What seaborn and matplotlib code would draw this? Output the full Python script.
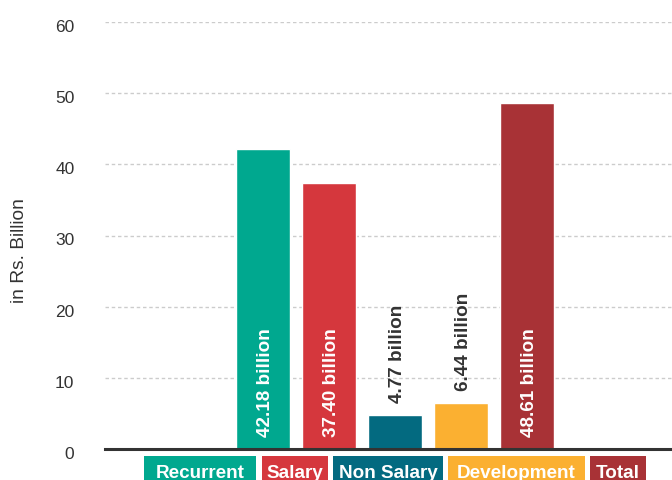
import matplotlib
matplotlib.use("Agg")
import matplotlib.pyplot as plt
from matplotlib.patches import Rectangle
from matplotlib.transforms import ScaledTranslation
import seaborn as sns
import pandas as pd

# Budget components, in Rs. billion
categories = ["Recurrent", "Salary", "Non Salary", "Development", "Total"]
values = [42.18, 37.40, 4.77, 6.44, 48.61]
value_labels = ["42.18 billion", "37.40 billion", "4.77 billion", "6.44 billion", "48.61 billion"]
colors = ["#00A88F", "#D5373D", "#036A80", "#FBB031", "#A83236"]
y_ticks = [0, 10, 20, 30, 40, 50, 60]

sns.set_theme(style="white")
plt.rcParams["font.family"] = ["Liberation Sans", "DejaVu Sans"]

W, H, DPI = 672, 481, 100
fig = plt.figure(figsize=(W / DPI, H / DPI), dpi=DPI)
ax = fig.add_axes([105 / W, 1 - 450 / H, 1 - 105 / W, (450 - 23) / H])

df = pd.DataFrame({"category": categories, "value": values})
sns.barplot(data=df, x="category", y="value", hue="category",
            palette=dict(zip(categories, colors)), order=categories,
            width=0.82, saturation=1, legend=False, ax=ax, zorder=3)

ax.set_ylim(0, 60)
ax.set_xlim(-2.39, 6.2)
ax.set_yticks(y_ticks)
ax.set_yticklabels([str(t) for t in y_ticks], fontsize=12.5, color="#333333")
ax.tick_params(axis="y", length=0, pad=22)
shift = ScaledTranslation(0, -3 / DPI, fig.dpi_scale_trans)
for lbl in ax.get_yticklabels():
    lbl.set_transform(lbl.get_transform() + shift)
ax.set_xticks([])
ax.set_xlabel("")
ax.set_ylabel("in Rs. Billion", fontsize=13.8, color="#333333")
ax.yaxis.set_label_coords((28 - 105) / 567, 0.466)

for s in ["top", "right", "left"]:
    ax.spines[s].set_visible(False)
ax.spines["bottom"].set_color("#333333")
ax.spines["bottom"].set_linewidth(2.2)
ax.spines["bottom"].set_zorder(5)

for t in y_ticks[1:]:
    ax.axhline(t, color="#cccccc", lw=1, ls=(0, (2.5, 2)), zorder=1)

# value labels: inside tall bars, above short ones
for i, (v, lab) in enumerate(zip(values, value_labels)):
    if v > 10:
        ax.text(i + 0.04, 1.8, lab, rotation=90, ha="center", va="bottom",
                color="white", fontsize=13.6, fontweight="bold", zorder=6)
    else:
        ax.text(i + 0.04, v + 1.8, lab, rotation=90, ha="center", va="bottom",
                color="#333333", fontsize=13.6, fontweight="bold", zorder=6)

# colour-keyed category labels under the axis (box edges in pixels)
key_boxes = [(144, 256), (262, 328), (333, 443), (448, 585), (590, 646)]
for lab, col, (x0, x1) in zip(categories, colors, key_boxes):
    fig.add_artist(Rectangle((x0 / W, 0), (x1 - x0) / W, (H - 457) / H,
                             transform=fig.transFigure, facecolor=col,
                             edgecolor="none", zorder=9))
    fig.text((x0 + x1) / 2 / W, 1 - 478 / H, lab, fontsize=13.6,
             fontweight="bold", color="white", ha="center", va="baseline",
             zorder=10)

fig.savefig("out.png", dpi=DPI)
